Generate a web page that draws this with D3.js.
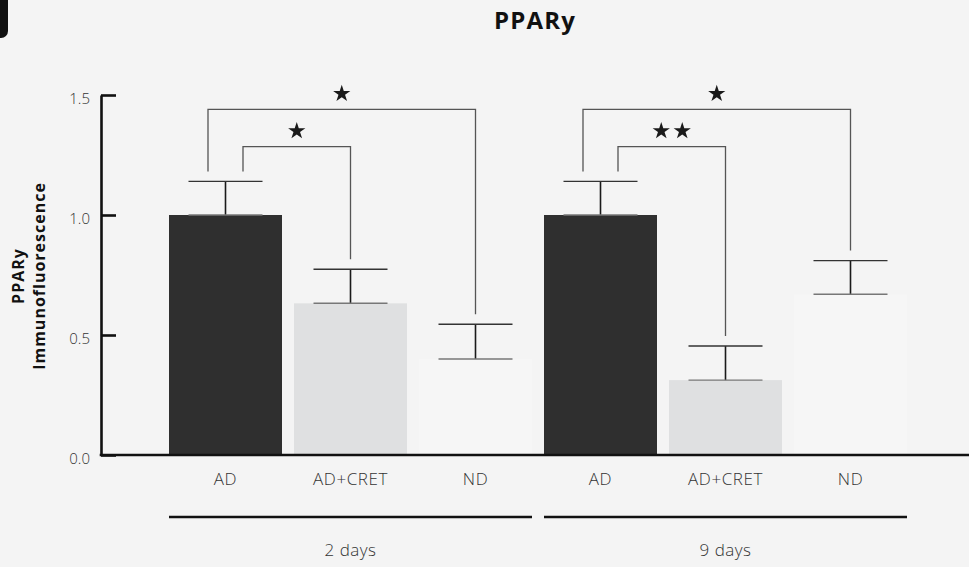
<!DOCTYPE html>
<html>
<head>
<meta charset="utf-8">
<script src="https://cdn.jsdelivr.net/npm/d3@7"></script>
<style>
  html, body { margin: 0; padding: 0; background: #f4f4f4; }
  svg { display: block; }
  .tick text { font-family: "Open Sans", "Lato", sans-serif; font-weight: 300; fill: #333; }
</style>
</head>
<body>
<div id="chart"></div>
<script>
// chart values
var groups = ["2 days", "9 days"];
var conditions = ["AD", "AD+CRET", "ND"];
var means = [1.00, 0.632, 0.40, 1.00, 0.312, 0.67];
var sems = [0.14, 0.142, 0.145, 0.14, 0.142, 0.14];
var yTicks = [0, 0.5, 1.0, 1.5];
// significance brackets: group, from condition, to condition, bracket height (value units), stars
var comparisons = [
  {group: 0, from: 0, to: 2, height: 1.44, stars: 1},
  {group: 0, from: 0, to: 1, height: 1.285, stars: 1},
  {group: 1, from: 0, to: 2, height: 1.44, stars: 1},
  {group: 1, from: 0, to: 1, height: 1.285, stars: 2}
];

var width = 969, height = 567;
var barColors = {"AD": "#2f2f2f", "AD+CRET": "#dfe0e1", "ND": "#f6f6f6"};

// one row per bar
var bars = [];
groups.forEach(function(g, gi) {
  conditions.forEach(function(c, ci) {
    var i = gi * conditions.length + ci;
    bars.push({key: g + "|" + c, group: g, cond: c, mean: means[i], sem: sems[i]});
  });
});

var svg = d3.select("#chart").append("svg")
  .attr("width", width)
  .attr("height", height);

// the black tab in the upper left corner
svg.append("rect")
  .attr("x", -10).attr("y", -10)
  .attr("width", 18).attr("height", 48)
  .attr("rx", 7)
  .attr("fill", "#111");

var axisX = 101, baseY = 455;

var x = d3.scaleBand()
  .domain(bars.map(function(d) { return d.key; }))
  .range([169, 907])
  .paddingInner(0.096)
  .paddingOuter(0);

var y = d3.scaleLinear()
  .domain([0, 1.5])
  .range([baseY, 95]);

function cx(gi, ci) {
  return x(groups[gi] + "|" + conditions[ci]) + x.bandwidth() / 2;
}

// title
svg.append("text")
  .attr("x", 535).attr("y", 29)
  .attr("text-anchor", "middle")
  .attr("font-family", "'Open Sans', sans-serif")
  .attr("font-weight", 700)
  .attr("font-size", 24)
  .attr("letter-spacing", 1.2)
  .attr("fill", "#111")
  .text("PPARy");

// y label, two lines
var yl = svg.append("text")
  .attr("transform", "translate(29,276) rotate(-90)")
  .attr("text-anchor", "middle")
  .attr("font-family", "'Open Sans', sans-serif")
  .attr("font-weight", 700)
  .attr("font-size", 16)
  .attr("letter-spacing", 1)
  .attr("fill", "#111");
yl.append("tspan").attr("x", 0).attr("dy", "-0.3em").text("PPARy");
yl.append("tspan").attr("x", 0).attr("dy", "1.3em").text("Immunofluorescence");

// bars
svg.append("g").selectAll("rect")
  .data(bars)
  .enter().append("rect")
  .attr("x", function(d) { return x(d.key); })
  .attr("y", function(d) { return y(d.mean); })
  .attr("width", x.bandwidth())
  .attr("height", function(d) { return y(0) - y(d.mean); })
  .attr("fill", function(d) { return barColors[d.cond]; });

// error bars: cap at the mean and at mean + sem
var capW = 74;
var eb = svg.append("g").selectAll("g")
  .data(bars)
  .enter().append("g")
  .attr("transform", function(d) { return "translate(" + (x(d.key) + x.bandwidth() / 2) + ",0)"; });
eb.append("line")
  .attr("y1", function(d) { return y(d.mean); })
  .attr("y2", function(d) { return y(d.mean + d.sem); })
  .attr("stroke", "#1a1a1a").attr("stroke-width", 1.6);
eb.append("line")
  .attr("x1", -capW / 2).attr("x2", capW / 2)
  .attr("y1", function(d) { return y(d.mean + d.sem); })
  .attr("y2", function(d) { return y(d.mean + d.sem); })
  .attr("stroke", "#333").attr("stroke-width", 1.4);
eb.append("line")
  .attr("x1", -capW / 2).attr("x2", capW / 2)
  .attr("y1", function(d) { return y(d.mean); })
  .attr("y2", function(d) { return y(d.mean); })
  .attr("stroke", "#777").attr("stroke-width", 1.4);

// significance brackets
var legGap = 10, legOff = 17.5;
var star = d3.symbol().type(d3.symbolStar).size(92);
comparisons.forEach(function(c) {
  var from = bars[c.group * conditions.length + c.from];
  var to = bars[c.group * conditions.length + c.to];
  var x0 = cx(c.group, c.from) + (c.height > 1.4 ? -legOff : legOff);
  var x1 = cx(c.group, c.to);
  var top = y(c.height);
  var y0 = y(from.mean + from.sem) - legGap;
  var y1 = y(to.mean + to.sem) - legGap;
  svg.append("path")
    .attr("d", "M" + x0 + "," + y0 + "V" + top + "H" + x1 + "V" + y1)
    .attr("fill", "none")
    .attr("stroke", "#555")
    .attr("stroke-width", 1.3);
  var mid = (x0 + x1) / 2;
  d3.range(c.stars).forEach(function(k) {
    svg.append("path")
      .attr("d", star)
      .attr("transform", "translate(" + (mid + (k - (c.stars - 1) / 2) * 21) + "," + (top - 15.6) + ")")
      .attr("fill", "#1a1a1a");
  });
});

// y axis, ticks pointing into the plot
var yAxis = svg.append("g")
  .attr("transform", "translate(" + axisX + ",0)")
  .call(d3.axisLeft(y)
    .tickValues(yTicks)
    .tickFormat(d3.format(".1f"))
    .tickSizeInner(-15)
    .tickSizeOuter(0)
    .tickPadding(11));
yAxis.select(".domain").attr("stroke", "#111").attr("stroke-width", 2.6);
yAxis.selectAll(".tick line").attr("stroke", "#111").attr("stroke-width", 2.6);
yAxis.selectAll(".tick text").attr("font-size", 15).attr("dy", "0.55em").attr("fill", "#444");

// x baseline
svg.append("line")
  .attr("x1", axisX - 1.3).attr("x2", width)
  .attr("y1", baseY).attr("y2", baseY)
  .attr("stroke", "#111").attr("stroke-width", 2.6);

// category labels
var xAxis = svg.append("g")
  .attr("transform", "translate(0," + baseY + ")")
  .call(d3.axisBottom(x)
    .tickSize(0)
    .tickPadding(18)
    .tickFormat(function(k) { return k.split("|")[1]; }));
xAxis.select(".domain").remove();
xAxis.selectAll(".tick text").attr("font-size", 17).attr("letter-spacing", 0.6).attr("fill", "#333");

// group lines and labels
groups.forEach(function(g, gi) {
  var first = x(g + "|" + conditions[0]);
  var last = x(g + "|" + conditions[conditions.length - 1]) + x.bandwidth();
  svg.append("line")
    .attr("x1", first).attr("x2", last)
    .attr("y1", 517).attr("y2", 517)
    .attr("stroke", "#111").attr("stroke-width", 2.4);
  svg.append("text")
    .attr("x", cx(gi, 1)).attr("y", 556)
    .attr("text-anchor", "middle")
    .attr("font-family", "'Open Sans', sans-serif")
    .attr("font-weight", 300)
    .attr("font-size", 17)
    .attr("letter-spacing", 0.5)
    .attr("fill", "#333")
    .text(g);
});
</script>
</body>
</html>
